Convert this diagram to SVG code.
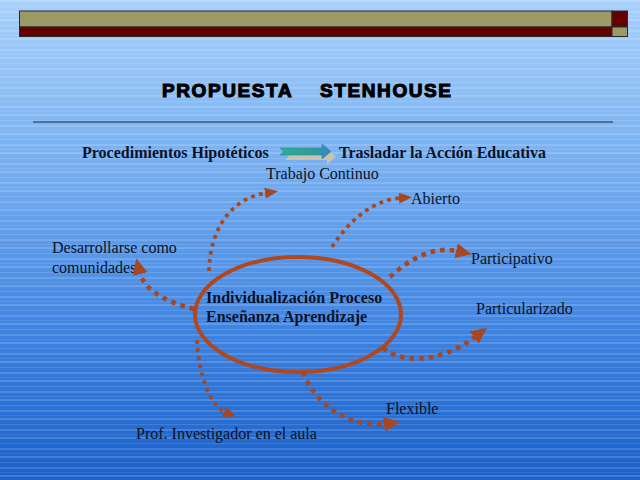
<svg xmlns="http://www.w3.org/2000/svg" width="640" height="480" viewBox="0 0 640 480">
<defs>
<linearGradient id="bg" x1="0" y1="0" x2="0" y2="1">
<stop offset="0" stop-color="#a8d1fb"/>
<stop offset="0.35" stop-color="#76aef0"/>
<stop offset="0.7" stop-color="#3d82e0"/>
<stop offset="1" stop-color="#1a60c8"/>
</linearGradient>
<pattern id="stripes" width="640" height="19" patternUnits="userSpaceOnUse">
<rect x="0" y="0" width="640" height="2" fill="#ffffff" opacity="0.16"/>
<rect x="0" y="6" width="640" height="1" fill="#ffffff" opacity="0.12"/>
<rect x="0" y="11" width="640" height="2" fill="#ffffff" opacity="0.14"/>
<rect x="0" y="16" width="640" height="1" fill="#ffffff" opacity="0.09"/>
</pattern>
<linearGradient id="teal" x1="0" y1="0" x2="1" y2="0">
<stop offset="0" stop-color="#2fb08a"/>
<stop offset="0.7" stop-color="#2f9a9a"/>
<stop offset="1" stop-color="#3a86c8"/>
</linearGradient>
<marker id="headS" viewBox="0 0 13 11" markerWidth="13" markerHeight="11" refX="1" refY="5.5" orient="auto" markerUnits="userSpaceOnUse">
<path d="M0,0 L13,5.5 L0,11 z" fill="#a8461f"/>
</marker>
<marker id="headL" viewBox="0 0 16 15" markerWidth="16" markerHeight="15" refX="1" refY="7.5" orient="auto" markerUnits="userSpaceOnUse">
<path d="M0,0 L16,7.5 L0,15 z" fill="#a8461f"/>
</marker>
<style>
.lbl{font-family:"Liberation Serif","Times New Roman",serif;font-size:16px;fill:#0a1228}
.bold{font-weight:bold}
.dotS{fill:none;stroke:#a8461f;stroke-width:3.8;stroke-dasharray:3.8 4.4;marker-end:url(#headS)}
.dotL{fill:none;stroke:#a8461f;stroke-width:4.6;stroke-dasharray:4.6 5;marker-end:url(#headL)}
</style>
</defs>

<rect x="0" y="0" width="640" height="480" fill="url(#bg)"/>
<rect x="0" y="0" width="640" height="480" fill="url(#stripes)"/>

<g id="topbar">
<rect x="19.5" y="11" width="592.5" height="16" fill="#9c9a66" stroke="#2a2a2a" stroke-width="1"/>
<rect x="19.5" y="27" width="592.5" height="9.5" fill="#640000" stroke="#2a2a2a" stroke-width="1"/>
<rect x="612" y="11" width="15.5" height="16" fill="#640000" stroke="#2a2a2a" stroke-width="1"/>
<rect x="612" y="27" width="15.5" height="9.5" fill="#9c9a66" stroke="#2a2a2a" stroke-width="1"/>
</g>

<g id="title">
<text font-family="'Liberation Sans',Arial,sans-serif" font-weight="bold" font-size="19" fill="#000" stroke="#000" stroke-width="1.1" letter-spacing="1.6"><tspan x="162" y="97">PROPUESTA</tspan><tspan x="320" y="97">STENHOUSE</tspan></text>
<line x1="33" y1="122" x2="613" y2="122" stroke="#1a2448" stroke-width="1.2"/>
</g>

<g id="procedimientos">
<text class="lbl bold" x="82" y="158">Procedimientos Hipotéticos</text>
</g>
<g id="flecha-trasladar">
<path d="M285,153 L327,153 L327,149 L336,156.5 L327,164 L327,160 L285,160 L289,156.5 z" fill="#c9c2ac"/>
<path d="M280,148 L322,148 L322,144 L331,151.5 L322,159 L322,155 L280,155 L284,151.5 z" fill="url(#teal)" stroke="#3a7fb8" stroke-width="0.6"/>
</g>
<g id="trasladar">
<text class="lbl bold" x="339" y="158">Trasladar la Acción Educativa</text>
</g>

<g id="centro">
<ellipse cx="298" cy="314.5" rx="103" ry="57.5" fill="none" stroke="#b0481f" stroke-width="4"/>
<text class="lbl bold" x="206" y="303">Individualización Proceso</text>
<text class="lbl bold" x="206" y="322">Enseñanza Aprendizaje</text>
</g>

<g id="trabajo"><text class="lbl" x="266" y="179">Trabajo Continuo</text></g>
<g id="abierto"><text class="lbl" x="411" y="204">Abierto</text></g>
<g id="desarrollarse"><text class="lbl" x="52" y="253">Desarrollarse como</text><text class="lbl" x="52" y="273">comunidades</text></g>
<g id="participativo"><text class="lbl" x="471" y="264">Participativo</text></g>
<g id="particularizado"><text class="lbl" x="476" y="314">Particularizado</text></g>
<g id="flexible"><text class="lbl" x="386" y="414">Flexible</text></g>
<g id="profesor"><text class="lbl" x="136" y="439">Prof. Investigador en el aula</text></g>

<g id="connectors">
<path class="dotS" d="M209,271 C210,228 232,198 266,193"/>
<path class="dotS" d="M332,247 C348,222 372,200 400,198"/>
<path class="dotL" d="M390,277 C410,258 435,246 457,251"/>
<path class="dotL" d="M194,309 C170,303 145,292 140,273"/>
<path class="dotL" d="M383,348 C405,366 445,360 475,337"/>
<path class="dotL" d="M303,372 C315,405 350,428 385,424"/>
<path class="dotS" d="M197,340 C198,372 210,406 225,412"/>
</g>
</svg>
